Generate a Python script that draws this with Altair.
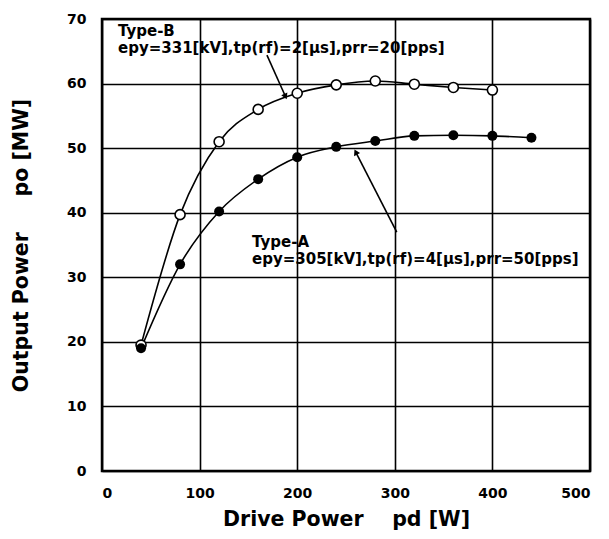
import altair as alt
import pandas as pd
import math

# Data
pd_b = [40, 80, 120, 160, 200, 240, 280, 320, 360, 400]
po_b = [19.5, 39.7, 51.0, 56.0, 58.5, 59.8, 60.4, 59.9, 59.4, 59.0]
pd_a = [40, 80, 120, 160, 200, 240, 280, 320, 360, 400, 440]
po_a = [19.0, 32.0, 40.2, 45.2, 48.6, 50.2, 51.1, 51.9, 52.0, 51.9, 51.6]

x_ticks = [0, 100, 200, 300, 400, 500]
y_ticks = [0, 10, 20, 30, 40, 50, 60, 70]

note_x = [16.4, 16.4, 153.7, 153.7]
note_y = [68.1, 65.5, 35.4, 32.8]
note_text = ["Type-B", "epy=331[kV],tp(rf)=2[\u03bcs],prr=20[pps]",
             "Type-A", "epy=305[kV],tp(rf)=4[\u03bcs],prr=50[pps]"]

arrow_x = [169, 302]
arrow_y = [64.4, 37.0]
arrow_x2 = [188, 260]
arrow_y2 = [58.0, 49.4]

W, H = 488, 452
XMAX, YMAX = 500, 70

df_b = pd.DataFrame({"pd": pd_b, "po": po_b})
df_a = pd.DataFrame({"pd": pd_a, "po": po_a})
df_note = pd.DataFrame({"x": note_x, "y": note_y, "t": note_text})
ang = []
for x1, y1, x2, y2 in zip(arrow_x, arrow_y, arrow_x2, arrow_y2):
    dx = (x2 - x1) * W / XMAX
    dy = -(y2 - y1) * H / YMAX
    ang.append((math.degrees(math.atan2(dx, -dy)) + 360) % 360)
df_arrow = pd.DataFrame({"x": arrow_x, "y": arrow_y, "x2": arrow_x2, "y2": arrow_y2, "ang": ang})

FONT = "DejaVu Sans"
NB = "\u00a0"

xs = alt.Scale(domain=[0, XMAX], nice=False)
ys = alt.Scale(domain=[0, YMAX], nice=False)

xax = alt.Axis(values=x_ticks, title="Drive Power" + NB * 4 + "pd [W]", grid=True,
               gridColor="black", gridWidth=1.6, gridOpacity=1, ticks=False, domain=False,
               labelFont=FONT, labelFontWeight="bold", labelFontSize=14, labelColor="black",
               labelPadding=15, titleFont=FONT, titleFontWeight="bold", titleFontSize=20.5,
               titleColor="black", titlePadding=9)
yax = alt.Axis(values=y_ticks, title="Output Power" + NB * 5 + "po [MW]", grid=True,
               gridColor="black", gridWidth=1.6, gridOpacity=1, ticks=False, domain=False,
               labelFont=FONT, labelFontWeight="bold", labelFontSize=14, labelColor="black",
               labelPadding=16, titleFont=FONT, titleFontWeight="bold", titleFontSize=20.5,
               titleColor="black", titlePadding=35)

base_b = alt.Chart(df_b)
base_a = alt.Chart(df_a)

line_b = base_b.mark_line(color="black", strokeWidth=1.6, interpolate="monotone").encode(
    x=alt.X("pd:Q", scale=xs, axis=xax), y=alt.Y("po:Q", scale=ys, axis=yax))
line_a = base_a.mark_line(color="black", strokeWidth=1.6, interpolate="monotone").encode(
    x=alt.X("pd:Q", scale=xs), y=alt.Y("po:Q", scale=ys))
pts_b = base_b.mark_point(shape="circle", filled=True, fill="white", stroke="black",
                          strokeWidth=1.6, size=100, opacity=1).encode(
    x=alt.X("pd:Q", scale=xs), y=alt.Y("po:Q", scale=ys))
pts_a = base_a.mark_point(shape="circle", filled=True, color="black", size=100, opacity=1).encode(
    x=alt.X("pd:Q", scale=xs), y=alt.Y("po:Q", scale=ys))

notes = alt.Chart(df_note).mark_text(align="left", baseline="middle", font=FONT,
                                     fontWeight="bold", fontSize=15, color="black").encode(
    x=alt.X("x:Q", scale=xs), y=alt.Y("y:Q", scale=ys), text="t:N")

arrows = alt.Chart(df_arrow).mark_rule(color="black", strokeWidth=1.6).encode(
    x=alt.X("x:Q", scale=xs), y=alt.Y("y:Q", scale=ys), x2="x2:Q", y2="y2:Q")
heads = alt.Chart(df_arrow).mark_point(shape="triangle-up", filled=True, color="black",
                                       size=45, opacity=1).encode(
    x=alt.X("x2:Q", scale=xs), y=alt.Y("y2:Q", scale=ys), angle=alt.Angle("ang:Q", scale=None))

chart = alt.layer(line_b, line_a, arrows, heads, pts_b, pts_a, notes).properties(
    width=W, height=H,
    autosize=alt.AutoSizeParams(type="none"),
    padding={"left": 94, "top": 11, "right": 11, "bottom": 60},
    background="white",
).configure_view(stroke="black", strokeWidth=2.5)

chart.save("out.html", embed_options={"renderer": "svg", "actions": False})
